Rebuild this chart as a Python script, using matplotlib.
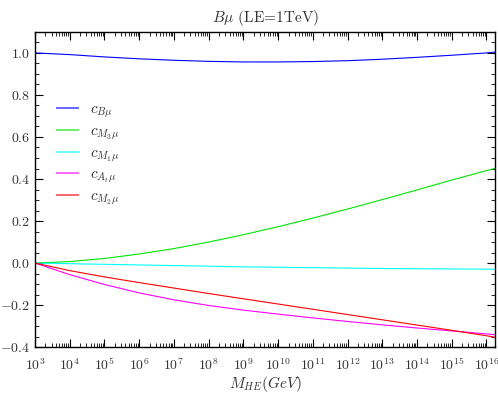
import numpy as np
import matplotlib
matplotlib.use("Agg")
import matplotlib.pyplot as plt
from matplotlib.ticker import AutoMinorLocator, LogLocator, FixedLocator

plt.rcParams['font.family'] = 'serif'
plt.rcParams['font.serif'] = ['cmr10']
plt.rcParams['mathtext.fontset'] = 'cm'
plt.rcParams['axes.formatter.use_mathtext'] = True

# log10 of the high-energy scale (GeV)
log_m = [3, 4, 5, 6, 7, 8, 9, 10, 11, 12, 13, 14, 15, 16, 16.25]

c_b = [1.000, 0.992, 0.981, 0.972, 0.965, 0.960, 0.957, 0.957, 0.959, 0.963,
       0.970, 0.979, 0.989, 1.000, 1.004]
c_m3 = [0.0, 0.007, 0.022, 0.043, 0.069, 0.100, 0.135, 0.173, 0.214, 0.257,
        0.302, 0.348, 0.395, 0.440, 0.451]
c_m1 = [0.0, -0.003, -0.006, -0.009, -0.012, -0.015, -0.018, -0.020, -0.022,
        -0.024, -0.026, -0.027, -0.028, -0.029, -0.030]
c_at = [0.0, -0.055, -0.102, -0.142, -0.175, -0.202, -0.224, -0.243, -0.261,
        -0.278, -0.294, -0.309, -0.323, -0.337, -0.341]
c_m2 = [0.0, -0.036, -0.066, -0.093, -0.119, -0.145, -0.170, -0.195, -0.220,
        -0.245, -0.270, -0.295, -0.320, -0.346, -0.353]

labels = [r'$c_{B\mu}$', r'$c_{M_3\mu}$', r'$c_{M_1\mu}$', r'$c_{A_t\mu}$', r'$c_{M_2\mu}$']
colors = ['#0000ff', '#00e600', '#00ffff', '#ff00ff', '#ff0000']

m = 10.0 ** np.array(log_m)

fig = plt.figure(figsize=(4.98, 3.94), dpi=100)
ax = fig.add_axes([0.0703, 0.119, 0.924, 0.800])

for vals, lab, col in zip([c_b, c_m3, c_m1, c_at, c_m2], labels, colors):
    ax.plot(m, vals, color=col, lw=0.8, label=lab)

ax.set_xscale('log')
ax.set_xlim(1e3, 10 ** 16.25)
ax.set_ylim(-0.4, 1.1)

ax.xaxis.set_major_locator(FixedLocator(10.0 ** np.arange(3, 17)))
ax.xaxis.set_minor_locator(LogLocator(base=10, subs=np.arange(2, 10), numticks=40))
ax.yaxis.set_minor_locator(AutoMinorLocator(4))
ax.set_yticks([-0.4, -0.2, 0.0, 0.2, 0.4, 0.6, 0.8, 1.0])

ax.tick_params(which='both', direction='in', top=True, right=True,
               labelsize=10, colors='black', labelcolor='#333333')
ax.tick_params(axis='x', which='major', pad=7)
ax.tick_params(which='major', length=6, width=0.8)
ax.tick_params(which='minor', length=3, width=0.6)
for s in ax.spines.values():
    s.set_linewidth(1.0)

ax.set_title(r'$B\mu$ (LE=1TeV)', fontsize=11, color='#333333', pad=7)
ax.set_xlabel(r'$M_{HE}(GeV)$', fontsize=11, color='#333333', labelpad=0.5)

leg = ax.legend(loc='upper left', bbox_to_anchor=(0.017, 0.82), frameon=False,
                fontsize=11, handlelength=1.4, labelspacing=0.3, handletextpad=0.8)
for ln in leg.get_lines():
    ln.set_alpha(0.6)
    ln.set_linewidth(1.4)
for t in leg.get_texts():
    t.set_color('#333333')

fig.savefig('out.png', dpi=100)
